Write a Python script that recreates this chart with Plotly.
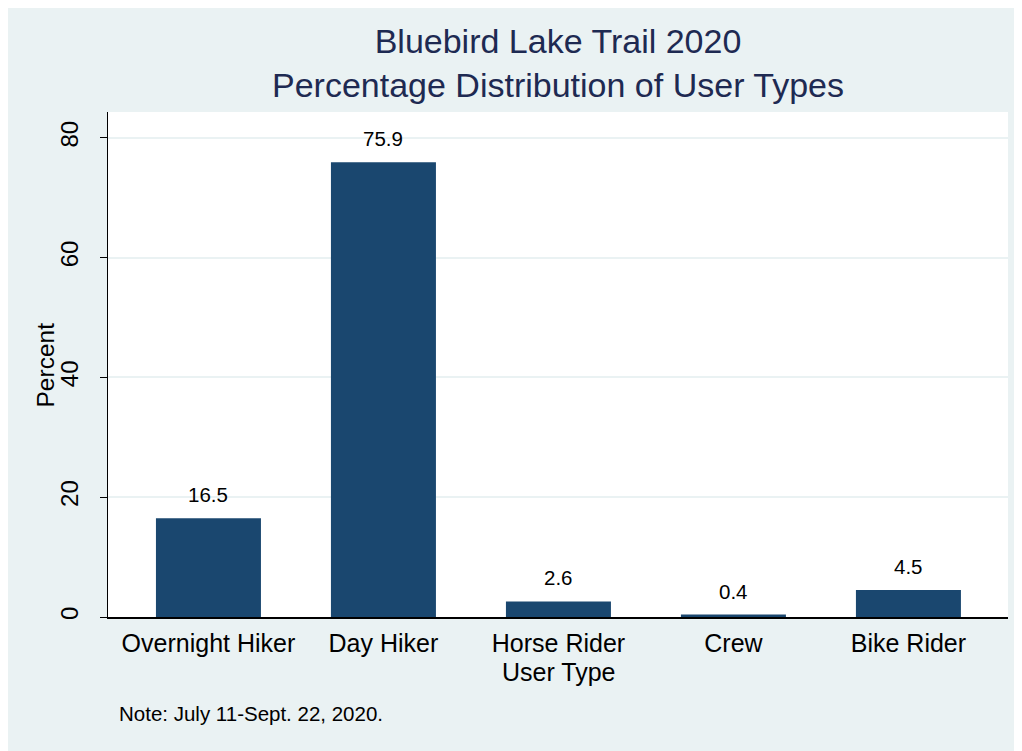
import plotly.graph_objects as go

categories = ["Overnight Hiker", "Day Hiker", "Horse Rider", "Crew", "Bike Rider"]
percent = [16.5, 75.9, 2.6, 0.4, 4.5]
value_labels = ["16.5", "75.9", "2.6", "0.4", "4.5"]
y_ticks = [0, 20, 40, 60, 80]

title_line1 = "Bluebird Lake Trail 2020"
title_line2 = "Percentage Distribution of User Types"
x_title = "User Type"
y_title = "Percent"
note = "Note: July 11-Sept. 22, 2020."

BG = "#EAF2F3"
BAR = "#1A476F"
TITLE_C = "#1E2A52"
FONT = "Arial, Liberation Sans, sans-serif"

# page has an 8px body margin; positions below are page pixels of the reference
OFF = 8
W, H = 1014, 743
L, R, T, B = 100, 14, 104, 134
pw, ph = W - L - R, H - T - B

def px_x(px):
    return (px - OFF - L) / pw

def px_y(py):
    return (H - B - (py - OFF)) / ph

fig = go.Figure()
fig.add_trace(go.Bar(
    x=categories, y=percent, width=0.6,
    marker=dict(color=BAR, line=dict(width=0)),
    hoverinfo="x+y",
))

annotations = []
for c, v, t in zip(categories, percent, value_labels):
    annotations.append(dict(x=c, y=v, xref="x", yref="y", text=t, showarrow=False,
                            yanchor="bottom", yshift=10,
                            font=dict(family=FONT, size=20.5, color="black")))

annotations += [
    dict(x=0.5, y=px_y(63), xref="paper", yref="paper",
         text=title_line1 + "<br>" + title_line2, showarrow=False,
         xanchor="center", yanchor="middle", align="center",
         font=dict(family=FONT, size=34, color=TITLE_C)),
    dict(x=0.5, y=px_y(672), xref="paper", yref="paper", text=x_title, showarrow=False,
         xanchor="center", yanchor="middle", font=dict(family=FONT, size=25, color="black")),
    dict(x=px_x(45), y=0.5, xref="paper", yref="paper", text=y_title, showarrow=False,
         textangle=-90, xanchor="center", yanchor="middle",
         font=dict(family=FONT, size=24.5, color="black")),
    dict(x=px_x(117), y=px_y(713), xref="paper", yref="paper", text=note, showarrow=False,
         xanchor="left", yanchor="middle", font=dict(family=FONT, size=20.5, color="black")),
]

fig.update_layout(
    width=W, height=H,
    margin=dict(l=L, r=R, t=T, b=B, pad=0),
    paper_bgcolor=BG, plot_bgcolor="white",
    showlegend=False,
    annotations=annotations,
    bargap=0.4,
)

fig.update_xaxes(
    type="category", range=[-0.574, 4.569], automargin=False,
    showline=True, linecolor="black", linewidth=1.5, mirror=False,
    ticks="", showgrid=False, zeroline=False,
    tickfont=dict(family=FONT, size=25, color="black"),
    ticklabelstandoff=3,
)
fig.update_yaxes(
    range=[0, 84.3], tickvals=y_ticks, automargin=False,
    showline=True, linecolor="black", linewidth=1,
    ticks="outside", ticklen=7, tickcolor="black", tickwidth=1,
    tickangle=-90,
    showgrid=True, gridcolor=BG, gridwidth=1.5, zeroline=False,
    tickfont=dict(family=FONT, size=24, color="black"),
    ticklabelstandoff=12,
)

fig.write_html("out.html")
